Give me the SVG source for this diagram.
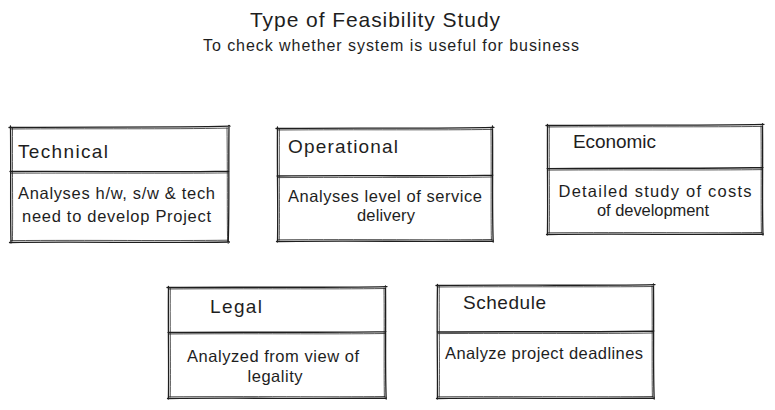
<svg xmlns="http://www.w3.org/2000/svg" width="775" height="410" viewBox="0 0 775 410">
  <style>
    .bg { fill: #ffffff; }
    .sk { fill: none; stroke: #1e1e1e; stroke-width: 1.3; stroke-linecap: round; stroke-linejoin: round; }
    .sk2 { fill: none; stroke: #1e1e1e; stroke-width: 0.9; stroke-linecap: round; opacity: 0.85; }
    text { font-family: "Liberation Sans", "DejaVu Sans", sans-serif; fill: #1e1e1e; }
    .title { font-size: 21px; }
    .sub { font-size: 16px; }
    .head { font-size: 19px; }
    .body { font-size: 16.5px; }
  </style>
  <rect class="bg" x="0" y="0" width="775" height="410"/>

  <!-- heading -->
  <g id="title">
    <text class="title" x="375" y="27" text-anchor="middle" textLength="250">Type of Feasibility Study</text>
    <text class="sub" x="391" y="51" text-anchor="middle" textLength="376">To check whether system is useful for business</text>
  </g>

  <!-- Technical -->
  <g id="technical">
    <path class="sk" d="M9 127.5 C80 126.5 160 127.8 230 126.2 M10.5 126 C11 170 10.2 210 11 243 M229 125.5 C228.5 170 229.4 210 228.2 243 M9.5 242.5 C80 241.5 160 243.2 229.5 242 M10 171.5 C80 170.8 160 172.6 229 171.2"/>
    <path class="sk2" d="M11 129 C90 128.4 170 129.3 228 128.1 M12.5 128 C12.2 175 13 215 12.4 241 M227 128 C227.6 175 227 215 227.6 241 M11 240.6 C90 240 170 241 228 240.2 M11 173.2 C90 172.8 170 173.6 228 172.9"/>
    <text class="head" x="18" y="158" textLength="90">Technical</text>
    <text class="body" x="18" y="199" textLength="197">Analyses h/w, s/w &amp; tech</text>
    <text class="body" x="22" y="222" textLength="189">need to develop Project</text>
  </g>

  <!-- Operational -->
  <g id="operational">
    <path class="sk" d="M276 128.5 C350 127.5 430 128.9 494 127.3 M277.5 127 C277 170 278.2 210 277.5 242 M492.5 126 C493 170 492 210 493.2 242 M276.5 241.5 C350 240.5 430 242 493.5 241 M277 176 C350 175.2 430 176.4 493 175.1"/>
    <path class="sk2" d="M278 130 C360 129.4 440 130.3 492 129.4 M279.4 129 C279 175 279.8 215 279.2 240 M491 128.5 C491.4 175 490.8 215 491.4 240 M278 239.8 C360 239.2 440 240.2 492 239.5 M278 177.6 C360 177 440 177.9 492 177"/>
    <text class="head" x="288" y="153" textLength="110">Operational</text>
    <text class="body" x="385" y="202" text-anchor="middle" textLength="194">Analyses level of service</text>
    <text class="body" x="386" y="221" text-anchor="middle" textLength="58">delivery</text>
  </g>

  <!-- Economic -->
  <g id="economic">
    <path class="sk" d="M546 125.5 C620 124.8 700 125.6 764 124.3 M547.5 124.5 C547.2 170 548 205 547.4 235 M762.5 124 C763 170 762 205 763 235 M546.5 234.5 C620 233.6 700 235 763.5 234 M547 168.6 C620 167.8 700 168.8 763 167.5"/>
    <path class="sk2" d="M548 127 C630 126.4 710 127.2 762 126.4 M549.3 126.5 C549 170 549.8 205 549.2 233 M761 126 C761.5 170 760.8 205 761.4 233 M548 232.8 C630 232.2 710 233.1 762 232.5 M548 170.1 C630 169.6 710 170.3 762 169.6"/>
    <text class="head" x="573" y="148" textLength="83">Economic</text>
    <text class="body" x="655" y="197" text-anchor="middle" textLength="193">Detailed study of costs</text>
    <text class="body" x="653" y="216" text-anchor="middle" textLength="112">of development</text>
  </g>

  <!-- Legal -->
  <g id="legal">
    <path class="sk" d="M167 287.5 C240 286.7 320 288 387 286.6 M168.5 286.5 C168 330 169 370 168.4 399 M385.5 286 C386 330 385 370 386.2 399 M167.5 398.5 C240 397.6 320 399 386.5 398 M168 332.5 C240 331.8 320 332.9 386 331.6"/>
    <path class="sk2" d="M169 289 C250 288.4 330 289.3 385 288.5 M170.3 288.5 C170 330 170.8 370 170.2 397 M384 288 C384.5 330 383.8 370 384.4 397 M169 396.8 C250 396.2 330 397.2 385 396.5 M169 334 C250 333.4 330 334.3 385 333.5"/>
    <text class="head" x="210" y="313" textLength="52">Legal</text>
    <text class="body" x="273" y="362" text-anchor="middle" textLength="172">Analyzed from view of</text>
    <text class="body" x="275" y="382" text-anchor="middle" textLength="55">legality</text>
  </g>

  <!-- Schedule -->
  <g id="schedule">
    <path class="sk" d="M436 285.5 C510 284.7 590 285.9 655 284.6 M437.5 284.5 C436.6 330 437.8 370 437.4 399 M653.5 284 C654 330 653 370 654.2 399 M436.5 398.5 C510 397.6 590 399 654.5 398 M437 332 C510 331.2 590 332.5 654 331"/>
    <path class="sk2" d="M438 287 C520 286.4 600 287.2 653 286.5 M439.3 286.5 C439 330 439.8 370 439.2 397 M652 286 C652.5 330 651.8 370 652.4 397 M438 396.8 C520 396.2 600 397.2 653 396.5 M438 333.6 C520 333 600 333.9 653 333"/>
    <text class="head" x="463" y="309" textLength="83">Schedule</text>
    <text class="body" x="445" y="359" textLength="198">Analyze project deadlines</text>
  </g>
</svg>
